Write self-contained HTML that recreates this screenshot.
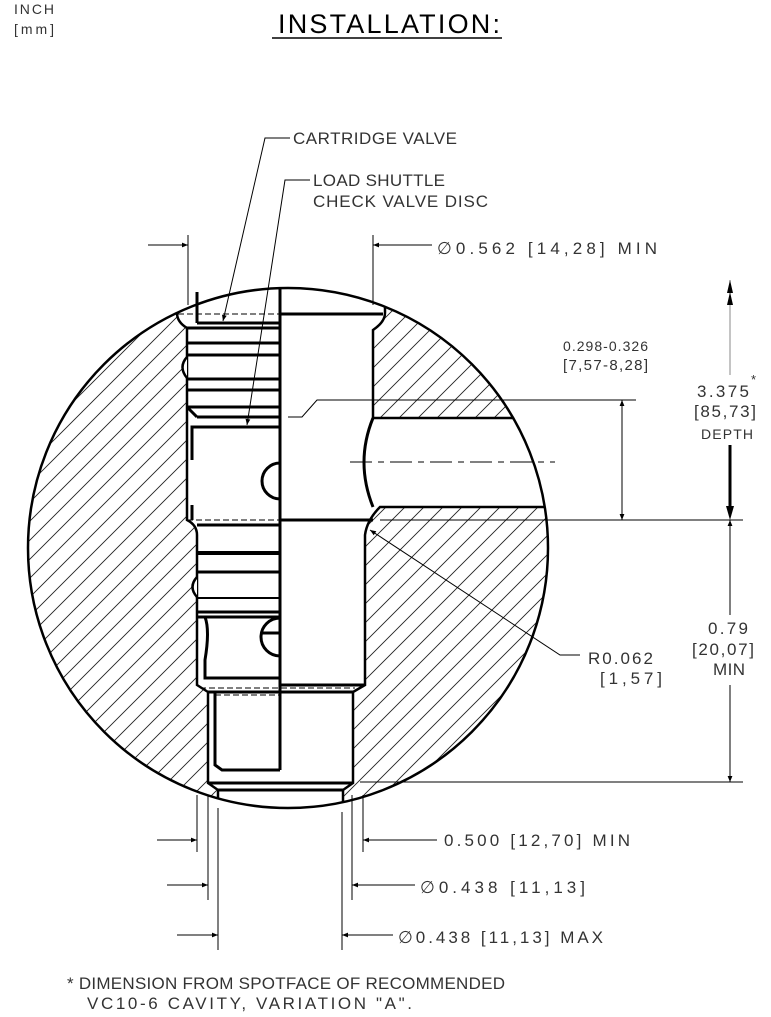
<!DOCTYPE html>
<html><head><meta charset="utf-8"><style>
html,body{margin:0;padding:0;background:#fff;}
svg{display:block;}
text{font-family:"Liberation Sans",sans-serif;font-size:17px;fill:#333;letter-spacing:0;}
</style></head><body>
<svg width="771" height="1017" viewBox="0 0 771 1017" xmlns="http://www.w3.org/2000/svg">
<defs>
<pattern id="h" width="19" height="19" patternUnits="userSpaceOnUse">
<path d="M-5,24 L24,-5 M-5,5 L5,-5 M14,24 L24,14" stroke="#222" stroke-width="0.9"/>
</pattern>
<clipPath id="c"><circle cx="288" cy="548" r="260"/></clipPath>
<marker id="a" viewBox="0 0 10 10" refX="10" refY="5" markerWidth="13" markerHeight="6" markerUnits="userSpaceOnUse" orient="auto"><path d="M0,1 L10,5 L0,9 Z" fill="#000"/></marker>
</defs>

<text x="14" y="14" textLength="40" style="font-size:14px">INCH</text>
<text x="14" y="34" textLength="40" style="font-size:14px">[mm]</text>
<text x="278" y="33" textLength="222" style="font-size:27px;fill:#000">INSTALLATION:</text>
<line x1="272" y1="38" x2="502" y2="38" stroke="#000" stroke-width="1.5"/>

<circle cx="288" cy="548" r="260" fill="url(#h)"/>
<g clip-path="url(#c)">
<path d="M177,270 L177,313 Q177,322 187,328 L187,520 Q197,525 197,535 L197,685 L208,692 L208,783 L218,790 L218,830 L343,830 L343,790 L353,783 L353,692 L365,685 L365,535 Q367,520 380,507 L560,507 L560,418 L373,418 L373,330 Q385,322 385,313 L385,270 Z" fill="#fff" stroke="#000" stroke-width="2.5"/>
<path d="M187,357 Q178,367 187,378" fill="#fff" stroke="#000" stroke-width="2.5"/>
<path d="M197,577 Q188,587 197,597" fill="#fff" stroke="#000" stroke-width="2.5"/>
</g>
<circle cx="288" cy="548" r="260" fill="none" stroke="#000" stroke-width="2.5"/>

<g stroke="#000" stroke-width="3" fill="none">
<line x1="280" y1="288" x2="280" y2="770"/>
<line x1="280" y1="314" x2="383" y2="314"/>
<line x1="197" y1="292" x2="197" y2="323"/>
<line x1="197" y1="323" x2="280" y2="323"/>
<line x1="187" y1="328" x2="280" y2="328"/>
<line x1="187" y1="343" x2="280" y2="343"/>
<line x1="187" y1="355" x2="280" y2="355"/>
<line x1="187" y1="379" x2="280" y2="379"/>
<line x1="187" y1="390" x2="280" y2="390"/>
<line x1="187" y1="407" x2="280" y2="407"/>
<line x1="197" y1="417" x2="280" y2="417"/>
<line x1="187" y1="407" x2="197" y2="417"/>
<path d="M192,460 L192,427 L280,427 M192,505 L192,520"/>
<path d="M280,463 A18,18 0 0 0 280,499"/>
<path d="M373,418 Q355,462 373,507"/>
<line x1="280" y1="520" x2="373" y2="520"/>
<line x1="197" y1="525" x2="280" y2="525"/>
<line x1="197" y1="553" x2="280" y2="553" stroke-width="4"/>
<line x1="197" y1="572" x2="280" y2="572"/>
<line x1="197" y1="598" x2="280" y2="598" stroke-width="2"/>
<line x1="197" y1="612" x2="280" y2="612"/>
<line x1="197" y1="617" x2="280" y2="617"/>
<path d="M205,617 Q210,630 205,660 L205,678 L280,678"/>
<path d="M280,618 A19,19 0 0 0 280,656"/>
<line x1="262" y1="633" x2="280" y2="633"/>
<line x1="280" y1="685" x2="365" y2="685"/>
<line x1="208" y1="692" x2="353" y2="692"/>
<path d="M215,692 L215,765 L222,770 L280,770"/>
<line x1="208" y1="783" x2="353" y2="783"/>
<line x1="218" y1="790" x2="343" y2="790"/>
</g>
<g stroke="#000" stroke-width="1" stroke-dasharray="6,3">
<line x1="178" y1="314" x2="280" y2="314"/>
<line x1="187" y1="520" x2="280" y2="520"/>
<line x1="200" y1="688" x2="355" y2="688"/>
<line x1="215" y1="695" x2="280" y2="695"/>
</g>
<line x1="350" y1="462" x2="555" y2="462" stroke="#000" stroke-width="1" stroke-dasharray="22,6,6,6"/>

<g stroke="#000" stroke-width="1" fill="none">
<polyline points="290,138 265,138 223,321" marker-end="url(#a)"/>
<polyline points="310,180 285,180 247,425" marker-end="url(#a)"/>
<polyline points="288,417 302,417 317,400 636,400"/>
<polyline points="580,655 560,655 370,530" marker-end="url(#a)"/>
<line x1="188" y1="235" x2="188" y2="305"/>
<line x1="373" y1="235" x2="373" y2="305"/>
<line x1="148" y1="245" x2="188" y2="245" marker-end="url(#a)"/>
<line x1="432" y1="245" x2="373" y2="245" marker-end="url(#a)"/>
<line x1="380" y1="520" x2="743" y2="520"/>
<line x1="360" y1="782" x2="743" y2="782"/>
<line x1="622" y1="460" x2="622" y2="400" marker-end="url(#a)"/>
<line x1="622" y1="460" x2="622" y2="520" marker-end="url(#a)"/>
<line x1="730" y1="375" x2="730" y2="280" stroke="#888"/>
<line x1="730" y1="445" x2="730" y2="510" stroke-width="3"/>
<line x1="730" y1="615" x2="730" y2="520" marker-end="url(#a)"/>
<line x1="730" y1="685" x2="730" y2="782" marker-end="url(#a)"/>
<line x1="197" y1="795" x2="197" y2="852"/>
<line x1="208" y1="795" x2="208" y2="900"/>
<line x1="218" y1="808" x2="218" y2="950"/>
<line x1="342" y1="812" x2="342" y2="950"/>
<line x1="352" y1="795" x2="352" y2="900"/>
<line x1="363" y1="795" x2="363" y2="852"/>
<line x1="157" y1="840" x2="197" y2="840" marker-end="url(#a)"/>
<line x1="437" y1="840" x2="363" y2="840" marker-end="url(#a)"/>
<line x1="167" y1="885" x2="208" y2="885" marker-end="url(#a)"/>
<line x1="415" y1="885" x2="352" y2="885" marker-end="url(#a)"/>
<line x1="177" y1="935" x2="218" y2="935" marker-end="url(#a)"/>
<line x1="393" y1="935" x2="342" y2="935" marker-end="url(#a)"/>
</g>
<g fill="#000">
<path d="M730,280 L727,293 L733,293 Z M730,292 L727,305 L733,305 Z"/>
<path d="M730,520 L726,506 L734,506 Z"/>
</g>

<text x="293" y="144" textLength="164">CARTRIDGE VALVE</text>
<text x="313" y="186" textLength="132">LOAD SHUTTLE</text>
<text x="313" y="207" textLength="175">CHECK VALVE DISC</text>
<text x="437" y="254" textLength="220">∅0.562 [14,28] MIN</text>
<text x="563" y="351" textLength="85" style="font-size:14px">0.298-0.326</text>
<text x="563" y="370" textLength="85" style="font-size:15px">[7,57-8,28]</text>
<text x="697" y="397" textLength="52">3.375</text>
<text x="751" y="384" style="font-size:13px">*</text>
<text x="694" y="417" textLength="62">[85,73]</text>
<text x="701" y="439" textLength="52" style="font-size:14px">DEPTH</text>
<text x="708" y="634" textLength="40">0.79</text>
<text x="692" y="655" textLength="62">[20,07]</text>
<text x="713" y="675" textLength="32">MIN</text>
<text x="588" y="664" textLength="65">R0.062</text>
<text x="600" y="684" textLength="62">[1,57]</text>
<text x="444" y="846" textLength="186">0.500 [12,70] MIN</text>
<text x="420" y="893" textLength="165">∅0.438 [11,13]</text>
<text x="398" y="943" textLength="205">∅0.438 [11,13] MAX</text>
<text x="67" y="989" textLength="438">* DIMENSION FROM SPOTFACE OF RECOMMENDED</text>
<text x="87" y="1009" textLength="325">VC10-6 CAVITY, VARIATION "A".</text>
</svg>
</body></html>
